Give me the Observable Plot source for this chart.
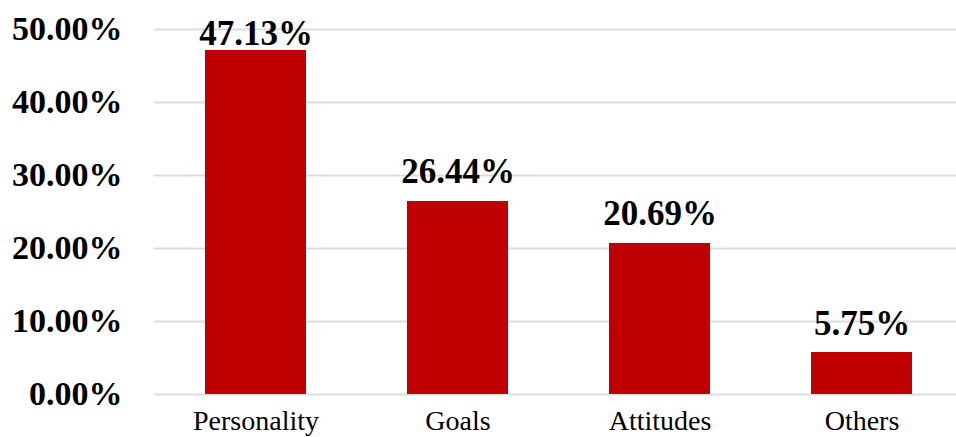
<!DOCTYPE html>
<html>
<head>
<meta charset="utf-8">
<script src="https://cdn.jsdelivr.net/npm/d3@7"></script>
<script src="https://cdn.jsdelivr.net/npm/@observablehq/plot@0.6"></script>
<style>
  html, body { margin: 0; padding: 0; background: #fff; overflow: hidden; }
  #chart svg { display: block; max-width: none !important; }
</style>
</head>
<body>
<div id="chart"></div>
<script>
const categories = ["Personality", "Goals", "Attitudes", "Others"];
const values = [47.13, 26.44, 20.69, 5.75];
const yTicks = [0, 10, 20, 30, 40, 50];

const data = categories.map((c, i) => ({category: c, value: values[i]}));
const fmt = d => d.value.toFixed(2) + "%";

const chart = Plot.plot({
  width: 956,
  height: 437,
  marginLeft: 154,
  marginRight: 0,
  marginTop: 29,
  marginBottom: 43,
  style: {fontFamily: "'Liberation Serif', 'Times New Roman', serif", background: "#fff"},
  x: {domain: categories, paddingInner: 0.5, paddingOuter: 0.229, align: 0.54},
  y: {domain: [0, 50]},
  marks: [
    Plot.gridY(yTicks, {stroke: "#d9dde3", strokeOpacity: 1, strokeWidth: 2}),
    Plot.barY(data, {x: "category", y: "value", fill: "#c00000"}),
    // labels that fit above the bar
    Plot.text(data.filter(d => d.value < 45), {
      x: "category", y: "value", text: fmt,
      lineAnchor: "bottom", dy: -18,
      fontSize: 35, fontWeight: "bold", fill: "#000"
    }),
    // label pushed down near the top edge of the plot area
    Plot.text(data.filter(d => d.value >= 45), {
      x: "category", y: "value", text: fmt,
      lineAnchor: "bottom", dy: -5,
      fontSize: 35, fontWeight: "bold", fill: "#000"
    }),
    Plot.axisY(yTicks, {
      tickSize: 0, tickPadding: 32, label: null,
      tickFormat: d => d.toFixed(2) + "%",
      fontSize: 34, fontWeight: "bold", fill: "#000"
    }),
    Plot.axisX({
      tickSize: 0, tickPadding: 16, label: null,
      fontSize: 28, fill: "#000"
    })
  ]
});
document.getElementById("chart").appendChild(chart);
</script>
</body>
</html>
